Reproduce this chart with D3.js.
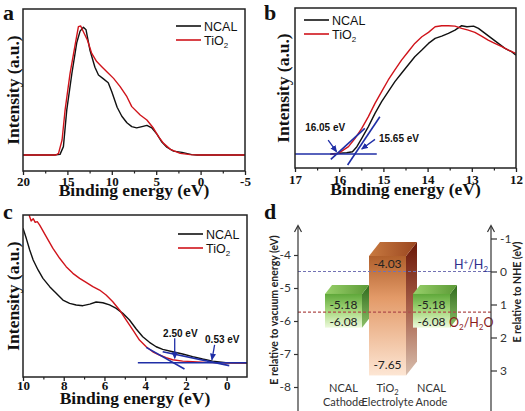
<!DOCTYPE html>
<html><head><meta charset="utf-8">
<script src="https://cdn.jsdelivr.net/npm/d3@7"></script>
<style>body{margin:0;background:#fff} svg{display:block}</style>
</head><body>
<svg id="fig" width="525" height="411"></svg>
<script>
// ---------- Panel a : full UPS spectra ----------
const aNcalE = [20,16.5,15.83,15.45,15.07,14.5,13.95,13.57,13.2,12.9,12.45,11.9,11.5,10.94,10.4,10.0,9.4,8.87,8.3,7.75,7.2,6.6,6.05,5.5,4.9,4.36,3.8,3.05,2.1,1.0,0.4,-5];
const aNcalI = [0,0,0.005,0.065,0.35,0.63,0.87,0.96,0.99,0.97,0.81,0.68,0.62,0.59,0.56,0.49,0.37,0.30,0.25,0.22,0.21,0.22,0.23,0.21,0.16,0.10,0.06,0.03,0.02,0.003,0,0];
const aTioE = [20,16.3,16.0,15.6,15.26,14.7,14.1,13.76,13.5,13.2,12.75,12.26,11.7,11.13,10.56,9.8,9.06,8.3,7.75,6.8,6.05,5.3,4.74,4.17,3.4,2.3,1.17,0,-5];
const aTioI = [0,0,0.013,0.116,0.349,0.633,0.866,0.995,1.0,0.956,0.891,0.788,0.724,0.685,0.646,0.594,0.530,0.452,0.375,0.310,0.271,0.207,0.142,0.090,0.044,0.013,0.003,0,0];
const aMajor = [20,15,10,5,0,-5];
const aMinor = [17.5,12.5,7.5,2.5,-2.5];

// ---------- Panel b : cutoff region ----------
const bNcalE = [16.2,15.83,15.7,15.6,15.49,15.34,15.19,15.04,14.89,14.74,14.59,14.44,14.29,14.13,13.98,13.83,13.68,13.53,13.38,13.23,13.11,12.96,12.85,12.7,12.55,12.4,12.25,12.1,12.0];
const bNcalI = [0,0.01,0.018,0.057,0.122,0.213,0.317,0.408,0.486,0.564,0.629,0.694,0.758,0.81,0.862,0.901,0.919,0.94,0.966,1.0,0.992,0.997,0.979,0.94,0.901,0.862,0.823,0.797,0.771];
const bTioE = [16.2,16.02,15.79,15.64,15.49,15.34,15.19,15.04,14.89,14.74,14.59,14.44,14.29,14.13,13.98,13.83,13.68,13.53,13.38,13.23,13.08,12.93,12.78,12.63,12.48,12.32,12.17,12.0];
const bTioI = [-0.003,0.005,0.057,0.122,0.2,0.291,0.395,0.486,0.577,0.655,0.732,0.797,0.862,0.914,0.948,0.992,1.0,1.0,0.997,0.979,0.966,0.948,0.919,0.888,0.862,0.836,0.81,0.784];
const bMajor = [17,16,15,14,13,12];
const bMinor = [16.5,15.5,14.5,13.5,12.5];
const bFitLines = [[[17,0],[15.15,0]], [[16.19,-0.042],[15.42,0.2]], [[15.81,-0.086],[15.08,0.29]]];
const bArrows = [[[16.25,0.109],[16.06,0.018]], [[15.19,0.114],[15.49,0.039]]];
const bNotes = [{t:"16.05 eV", e:16.77, i:0.179}, {t:"15.65 eV", e:15.1, i:0.094}];

// ---------- Panel c : valence band edge ----------
const cNcalE = [10,9.84,9.67,9.5,9.26,9.02,8.69,8.37,8.04,7.71,7.39,7.06,6.72,6.41,6.08,5.75,5.42,5.1,4.77,4.44,4.12,3.79,3.46,3.14,2.65,2.16,1.67,1.18,0.69,0.04,-1];
const cNcalI = [0.91,0.842,0.763,0.695,0.628,0.571,0.515,0.47,0.424,0.402,0.391,0.386,0.397,0.411,0.406,0.391,0.368,0.334,0.289,0.228,0.176,0.138,0.108,0.09,0.074,0.059,0.041,0.025,0.011,0,-0.002];
const cTioE = [9.7,9.6,9.5,9.4,9.3,9.18,8.86,8.53,8.2,7.88,7.55,7.22,6.9,6.57,6.24,5.92,5.59,5.26,4.93,4.6,4.28,3.95,3.63,3.3,2.97,2.65,2.16,1.67,1.01,0.04,-1];
const cTioI = [1.0,0.96,0.975,0.95,0.955,0.932,0.853,0.774,0.707,0.65,0.605,0.571,0.544,0.515,0.492,0.458,0.413,0.357,0.289,0.221,0.153,0.108,0.074,0.052,0.034,0.02,0.011,0.007,0.002,0,0];
const cMajor = [10,8,6,4,2,0];
const cMinor = [9,7,5,3,1];
const cFitLines = [[[4.36,0],[-1,0]], [[3.95,0.104],[2.07,-0.043]], [[3.14,0.074],[-0.13,-0.02]]];
const cArrows = [[[2.55,0.165],[2.55,0.03]], [[0.59,0.12],[0.72,0.02]]];
const cNotes = [{t:"2.50 eV", e:3.12, i:0.174}, {t:"0.53 eV", e:1.06, i:0.133}];

// ---------- Panel d : band diagram ----------
const dCats = ["Cathode","Electrolyte","Anode"];
const dMaterials = ["NCAL","TiO2","NCAL"];
const dTop = [-5.18,-4.03,-5.18];
const dBottom = [-6.08,-7.65,-6.08];
const vacTicks = [-4,-5,-6,-7,-8];
const nheTicks = [-1,0,1,2,3];
const redoxNames = ["H+/H2","O2/H2O"];
const redoxNHE = [0,1.23];

const svg = d3.select("#fig");
svg.append("rect").attr("width",525).attr("height",411).attr("fill","#fff");
const SERIF = "'Liberation Serif','Times New Roman',serif";
const SANS = "'Liberation Sans',Arial,sans-serif";
const LATO = "Lato,'Liberation Sans',sans-serif";
const BLUE = "#1f2ea6", RED = "#d0141b", BLACK = "#111";

const defs = svg.append("defs");
defs.append("marker").attr("id","arr").attr("viewBox","0 0 8 8").attr("refX",7).attr("refY",4)
  .attr("markerWidth",7).attr("markerHeight",7).attr("markerUnits","userSpaceOnUse").attr("orient","auto")
  .append("path").attr("d","M0,0.5 L8,4 L0,7.5 Z").attr("fill",BLUE);

function spectrum(o) {
  const g = svg.append("g");
  const x = d3.scaleLinear().domain(o.xd).range(o.xr);
  const y = d3.scaleLinear().domain([0,1]).range(o.yr);
  const clipId = "clip"+o.id;
  defs.append("clipPath").attr("id",clipId).append("rect")
    .attr("x",o.xr[0]).attr("y",o.top).attr("width",o.xr[1]-o.xr[0]).attr("height",o.bottom-o.top);
  const line = d3.line().x(d=>x(d[0])).y(d=>y(d[1]));
  const plot = g.append("g").attr("clip-path",`url(#${clipId})`);
  o.series.forEach(s => {
    plot.append("path").datum(d3.zip(s.e, s.i)).attr("d",line)
      .attr("fill","none").attr("stroke",s.c).attr("stroke-width",1.4).attr("stroke-linejoin","round");
  });
  (o.fits||[]).forEach(f => {
    plot.append("path").datum(f).attr("d",line).attr("stroke",BLUE).attr("stroke-width",1.6).attr("fill","none");
  });
  (o.arrows||[]).forEach(a => {
    g.append("line").attr("x1",x(a[0][0])).attr("y1",y(a[0][1])).attr("x2",x(a[1][0])).attr("y2",y(a[1][1]))
      .attr("stroke",BLUE).attr("stroke-width",1.3).attr("marker-end","url(#arr)");
  });
  (o.notes||[]).forEach(n => {
    g.append("text").attr("x",x(n.e)).attr("y",y(n.i)).attr("font-family",SANS).attr("font-weight","bold")
      .attr("font-size",10).attr("fill","#111").text(n.t);
  });
  // frame
  g.append("rect").attr("x",o.xr[0]).attr("y",o.top).attr("width",o.xr[1]-o.xr[0]).attr("height",o.bottom-o.top)
    .attr("fill","none").attr("stroke","#222").attr("stroke-width",1.5);
  // axes
  const ax = g.append("g").attr("transform",`translate(0,${o.bottom})`)
    .call(d3.axisBottom(x).tickValues(o.major).tickSize(4).tickPadding(o.pad).tickFormat(d=>String(d)));
  ax.select(".domain").remove();
  ax.selectAll("line").attr("stroke","#222").attr("stroke-width",1.3);
  ax.selectAll("text").attr("font-family",SERIF).attr("font-weight","bold").attr("font-size",13).attr("fill","#111");
  const mx = g.append("g").attr("transform",`translate(0,${o.bottom})`)
    .call(d3.axisBottom(x).tickValues(o.minor).tickSize(2.5).tickFormat(""));
  mx.select(".domain").remove();
  mx.selectAll("line").attr("stroke","#222").attr("stroke-width",1.2);
  // titles
  g.append("text").attr("x",(o.xr[0]+o.xr[1])/2).attr("y",o.xtY).attr("text-anchor","middle")
    .attr("font-family",SERIF).attr("font-weight","bold").attr("font-size",17.5).attr("fill","#111").text("Binding energy (eV)");
  g.append("text").attr("transform",`translate(${o.ytX},${(o.top+o.bottom)/2}) rotate(-90)`).attr("text-anchor","middle")
    .attr("font-family",SERIF).attr("font-weight","bold").attr("font-size",17.5).attr("fill","#111").text("Intensity (a.u.)");
  g.append("text").attr("x",o.lab[0]).attr("y",o.lab[1]).attr("font-family",SERIF).attr("font-weight","bold")
    .attr("font-size",22).attr("fill","#111").text(o.id);
  // legend
  const names = ["NCAL","TiO"];
  o.series.forEach((s,k) => {
    const ly = o.leg[1] + k*14;
    g.append("line").attr("x1",o.leg[0]).attr("x2",o.leg[0]+25).attr("y1",ly).attr("y2",ly)
      .attr("stroke",s.c).attr("stroke-width",1.6);
    const t = g.append("text").attr("x",o.leg[0]+28).attr("y",ly+4.5).attr("font-family",SANS)
      .attr("font-size",12.5).attr("fill","#111").text(names[k]);
    if (k===1) t.append("tspan").attr("font-size",8).attr("dy",3).text("2");
  });
}

spectrum({id:"a", xd:[20,-5], xr:[23,245], yr:[155,26], top:9, bottom:171, major:aMajor, minor:aMinor, pad:2,
  series:[{e:aNcalE,i:aNcalI,c:BLACK},{e:aTioE,i:aTioI,c:RED}], xtY:196, ytX:19, lab:[3,20], leg:[176,26]});
spectrum({id:"b", xd:[17,12], xr:[295,516], yr:[154,25.7], top:8, bottom:168, major:bMajor, minor:bMinor, pad:3,
  series:[{e:bNcalE,i:bNcalI,c:BLACK},{e:bTioE,i:bTioI,c:RED}], fits:bFitLines, arrows:bArrows, notes:bNotes,
  xtY:195, ytX:289, lab:[264,20], leg:[304,20]});
spectrum({id:"c", xd:[10,-1], xr:[23,247], yr:[362.7,215], top:215, bottom:377, major:cMajor, minor:cMinor, pad:0,
  series:[{e:cNcalE,i:cNcalI,c:BLACK},{e:cTioE,i:cTioI,c:RED}], fits:cFitLines, arrows:cArrows, notes:cNotes,
  xtY:404, ytX:19, lab:[3,219], leg:[178,234]});

// ---------- Panel d ----------
(function(){
  const g = svg.append("g");
  const yV = d3.scaleLinear().domain([-4,-8]).range([255,387]);
  const yN = d3.scaleLinear().domain([-1,3]).range([yV(-3.5), yV(-7.5)]);
  const xC = d3.scalePoint().domain(dCats).range([343.5,431.5]);
  const xL = 298, xR = 491;

  function grad(id, stops, x2, y2) {
    const lg = defs.append("linearGradient").attr("id",id).attr("x1",0).attr("y1",0).attr("x2",x2).attr("y2",y2);
    stops.forEach(s => lg.append("stop").attr("offset",s[0]).attr("stop-color",s[1]));
  }
  grad("gFront",[[0,"#5fa83a"],[0.5,"#a6d87c"],[1,"#ecf9dc"]],0,1);
  grad("gTop",[[0,"#98d06a"],[1,"#5c9a36"]],1,0);
  grad("gSide",[[0,"#2f6a1c"],[1,"#8cc068"]],0,1);
  grad("oFront",[[0,"#b0602c"],[0.35,"#e39a68"],[1,"#fde6d4"]],0,1);
  grad("oTop",[[0,"#c87a40"],[1,"#9a4620"]],1,0);
  grad("oSide",[[0,"#6a1606"],[0.5,"#a8604a"],[1,"#d8bfae"]],0,1);

  const w = 37;
  dCats.forEach((c,k) => {
    const isT = dMaterials[k] === "TiO2";
    const dx = isT ? 11 : 7, dy = isT ? -14 : -9;
    const x0 = xC(c) - w/2, x1 = xC(c) + w/2;
    const yt = yV(dTop[k]), yb = yV(dBottom[k]) + (isT ? 0 : 4);
    const p = isT ? "o" : "g";
    g.append("polygon").attr("points",[[x1,yt],[x1+dx,yt+dy],[x1+dx,yb+dy],[x1,yb]].join(" ")).attr("fill",`url(#${p}Side)`);
    g.append("polygon").attr("points",[[x0,yt],[x1,yt],[x1+dx,yt+dy],[x0+dx,yt+dy]].join(" ")).attr("fill",`url(#${p}Top)`);
    g.append("rect").attr("x",x0).attr("y",yt).attr("width",w).attr("height",yb-yt).attr("fill",`url(#${p}Front)`);
    g.append("text").attr("x",xC(c)).attr("y",yt + (isT?12:15)).attr("text-anchor","middle")
      .attr("font-family",LATO).attr("font-size",12).attr("fill","#222").text(dTop[k].toFixed(2));
    g.append("text").attr("x",xC(c)).attr("y",yb - (isT?6:2)).attr("text-anchor","middle")
      .attr("font-family",LATO).attr("font-size",12).attr("fill","#222").text(dBottom[k].toFixed(2));
    // category labels
    const t1 = g.append("text").attr("x",xC(c)).attr("y",392).attr("text-anchor","middle")
      .attr("font-family",LATO).attr("font-size",11).attr("fill","#333");
    if (isT) { t1.append("tspan").text("TiO"); t1.append("tspan").attr("font-size",7.5).attr("dy",2.5).text("2"); }
    else t1.text(dMaterials[k]);
    g.append("text").attr("x",xC(c)).attr("y",406).attr("text-anchor","middle")
      .attr("font-family",LATO).attr("font-size",11).attr("fill","#333").text(c);
  });

  // redox dashed lines
  const rCol = ["#7272b4","#b04c4c"], tCol = ["#2e2e8c","#8a1c1c"];
  redoxNHE.forEach((v,k) => {
    g.append("line").attr("x1",xL).attr("x2",xR).attr("y1",yN(v)).attr("y2",yN(v))
      .attr("stroke",rCol[k]).attr("stroke-width",1.1).attr("stroke-dasharray","3,2");
  });
  // H+/H2
  const h = g.append("text").attr("x",454).attr("y",yN(0)-3).attr("font-family",LATO).attr("font-size",12.5).attr("fill",tCol[0]);
  h.append("tspan").text("H");
  h.append("tspan").attr("font-size",8).attr("dy",-4).text("+");
  h.append("tspan").attr("dy",4).text("/H");
  h.append("tspan").attr("font-size",8).attr("dy",3).text("2");
  const o = g.append("text").attr("x",449).attr("y",yN(redoxNHE[1])+15).attr("font-family",LATO).attr("font-size",12.5).attr("fill",tCol[1]);
  o.append("tspan").text("O");
  o.append("tspan").attr("font-size",8).attr("dy",3).text("2");
  o.append("tspan").attr("dy",-3).text("/H");
  o.append("tspan").attr("font-size",8).attr("dy",3).text("2");
  o.append("tspan").attr("dy",-3).text("O");

  // axes
  const la = g.append("g").attr("transform",`translate(${xL},0)`)
    .call(d3.axisLeft(yV).tickValues(vacTicks).tickSize(4).tickPadding(3).tickFormat(d=>String(d)));
  const ra = g.append("g").attr("transform",`translate(${xR},0)`)
    .call(d3.axisRight(yN).tickValues(nheTicks).tickSize(6).tickPadding(3).tickFormat(d=>String(d)));
  [la,ra].forEach(a => {
    a.select(".domain").remove();
    a.selectAll("line").attr("stroke","#333").attr("stroke-width",1.2);
    a.selectAll("text").attr("font-family",LATO).attr("font-size",12).attr("fill","#333");
  });
  [xL,xR].forEach(xx => {
    g.append("line").attr("x1",xx).attr("x2",xx).attr("y1",411).attr("y2",226).attr("stroke","#333").attr("stroke-width",1.2);
    g.append("polyline").attr("points",`${xx-3.5},232 ${xx},225.5 ${xx+3.5},232`).attr("fill","none")
      .attr("stroke","#333").attr("stroke-width",1.2);
  });
  g.append("text").attr("transform",`translate(277.5,310) rotate(-90)`).attr("text-anchor","middle")
    .attr("font-family",LATO).attr("font-weight","bold").attr("font-size",10.5).attr("fill","#222")
    .text("E relative to vacuum energy (eV)");
  g.append("text").attr("transform",`translate(521,292) rotate(-90)`).attr("text-anchor","middle")
    .attr("font-family",LATO).attr("font-weight","bold").attr("font-size",10.5).attr("fill","#222")
    .text("E relative to NHE (eV)");
  g.append("text").attr("x",264).attr("y",219).attr("font-family",SERIF).attr("font-weight","bold")
    .attr("font-size",22).attr("fill","#111").text("d");
})();
</script>
</body></html>
